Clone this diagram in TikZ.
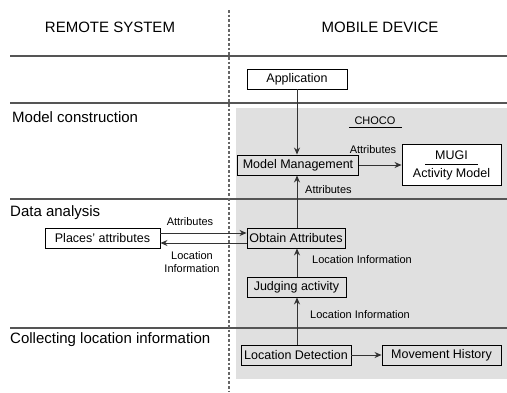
\documentclass[tikz,border=0pt]{standalone}
\usepackage{fontspec}
\setmainfont{Liberation Sans}
\usetikzlibrary{arrows.meta}
\definecolor{panel}{HTML}{E0E0E0}
\definecolor{rule}{HTML}{555555}
\definecolor{divider}{HTML}{666666}
\tikzset{
  box/.style={draw=black, line width=0.9pt, fill=panel, minimum height=20pt, inner sep=0pt, font=\fontsize{12.5}{14}\selectfont},
  wbox/.style={box, fill=white},
  lbl/.style={font=\fontsize{11}{13}\selectfont, inner sep=0pt},
  head/.style={font=\fontsize{15}{18}\selectfont, inner sep=0pt},
  side/.style={font=\fontsize{15}{18}\selectfont, inner sep=0pt, anchor=west},
  conn/.style={draw=black!80, line width=1pt, -{Stealth[length=7pt,width=6pt]}},
  hrule/.style={draw=rule, line width=1.2pt},
}
\begin{document}
\begin{tikzpicture}[x=1pt,y=-1pt]
\useasboundingbox (0,0) rectangle (507,392);
% gray panel
\fill[panel] (236,108) rectangle (507,379);
% horizontal rules
\draw[hrule] (10,56) -- (507,56);
\draw[hrule] (10,103) -- (507,103);
\draw[hrule] (10,199) -- (507,199);
\draw[hrule] (10,328) -- (507,328);
% divider
\draw[divider, line width=1.8pt, dash pattern=on 2.7pt off 2pt] (229,10) -- (229,392);
% headers
\node[head] (hremote) at (110,27) {REMOTE SYSTEM};
\node[head] (hmobile) at (380,27) {MOBILE DEVICE};
% side labels
\node[side] (smodel) at (12,117) {Model construction};
\node[side] (sdata) at (10,213) {Data analysis};
\node[side] (scollect) at (10,340) {Collecting location information};
% CHOCO
\node[lbl] (choco) at (375,121) {CHOCO};
\draw[black, line width=1pt] (349,127) -- (402,127);
% boxes
\node[wbox, minimum width=100pt] (app) at (297,79) {Application};
\node[box, minimum width=121pt] (mm) at (298,165) {Model Management};
\node[wbox, minimum width=99pt, minimum height=41pt] (mugi) at (451.5,164.5) {};
\node[font=\fontsize{12.5}{14}\selectfont, inner sep=0pt] (mugit) at (451.5,155) {MUGI};
\draw[black, line width=1pt] (425,164) -- (478,164);
\node[font=\fontsize{12.5}{14}\selectfont, inner sep=0pt] (actm) at (451.5,174) {Activity Model};
\node[wbox, minimum width=115pt] (places) at (102.5,238) {Places' attributes};
\node[box, minimum width=98pt] (obtain) at (296,238) {Obtain Attributes};
\node[box, minimum width=99pt] (judge) at (296.5,287) {Judging activity};
\node[box, minimum width=110pt] (locdet) at (296,355) {Location Detection};
\node[box, minimum width=119pt] (movhist) at (441.5,355) {Movement History};
% connectors
\draw[conn] (app.south -| 297,0) -- (mm.north -| 297,0);
\draw[conn] (obtain.north -| 297,0) -- (mm.south -| 297,0);
\draw[conn] (judge.north -| 297,0) -- (obtain.south -| 297,0);
\draw[conn] (locdet.north -| 297,0) -- (judge.south -| 297,0);
\draw[conn] (mm.east) -- (mugi.west |- mm.east);
\draw[conn] (locdet.east) -- (movhist.west);
\draw[conn] ([yshift=5pt]places.east) -- ([yshift=5pt]obtain.west);
\draw[conn] ([yshift=-5pt]obtain.west) -- ([yshift=-5pt]places.east);
% connector labels
\node[lbl] (l1) at (373,150) {Attributes};
\node[lbl, anchor=west] (l2) at (305,190) {Attributes};
\node[lbl] (l3) at (190,222) {Attributes};
\node[lbl, align=center, font=\fontsize{11}{13}\selectfont] (l4) at (192,262) {Location\\Information};
\node[lbl, anchor=west] (l5) at (312,260) {Location Information};
\node[lbl, anchor=west] (l6) at (310,315) {Location Information};
\end{tikzpicture}
\end{document}
